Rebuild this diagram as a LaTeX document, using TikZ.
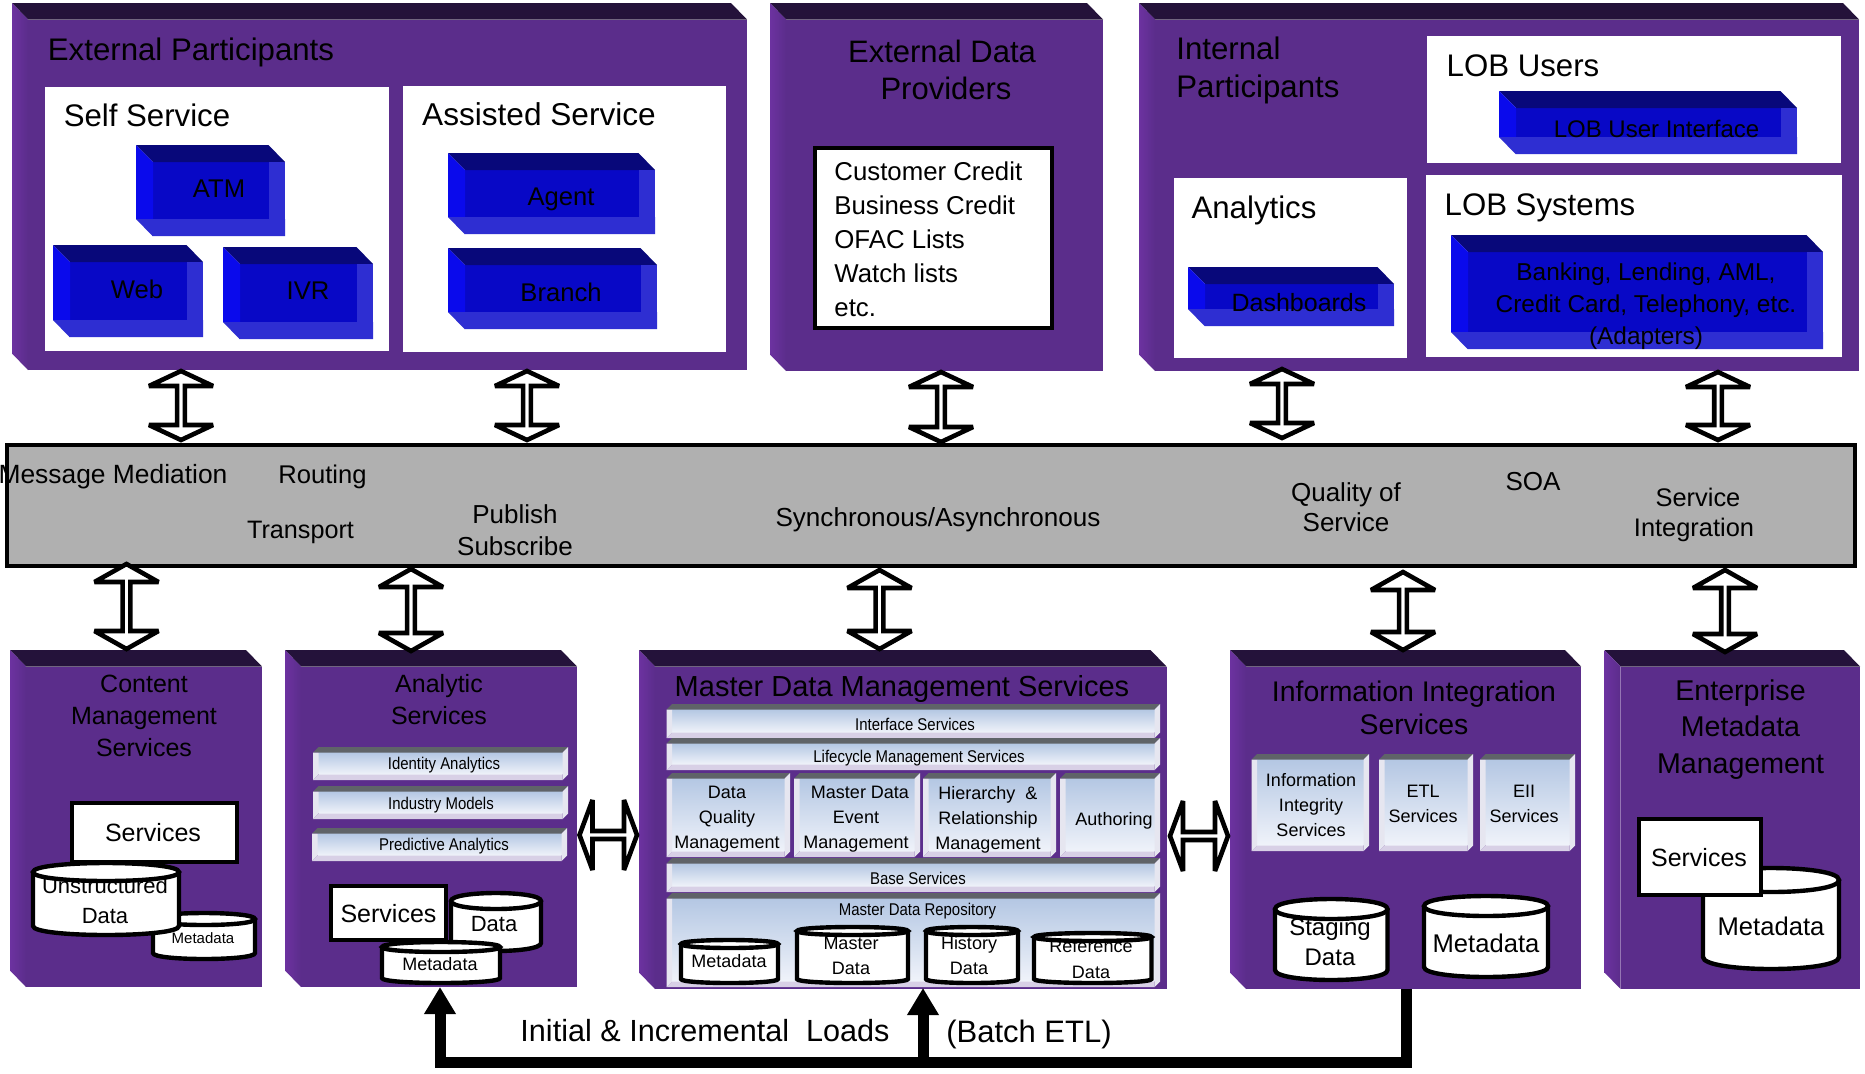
\documentclass[tikz,border=0pt]{standalone}
\usepackage{fontspec}
\setmainfont{Liberation Sans}
\newfontfamily\narrowf[FakeStretch=0.88]{Liberation Sans}
\usetikzlibrary{arrows.meta,shapes.arrows}
\definecolor{pfront}{HTML}{5B2D8B}
\definecolor{pleft}{HTML}{6C32A0}
\definecolor{ptop}{HTML}{24123A}
\definecolor{bcentre}{HTML}{0808C6}
\definecolor{btop}{HTML}{08087A}
\definecolor{bleft}{HTML}{0A0AEC}
\definecolor{bband}{HTML}{2E2ED2}
\definecolor{busgrey}{HTML}{B0B0B0}
\definecolor{ltop}{HTML}{B4C7E3}
\definecolor{lbot}{HTML}{F0F3FA}
\definecolor{lgrey}{HTML}{5F6368}
\definecolor{lband}{HTML}{D8D0E6}
\definecolor{lside}{HTML}{E6E6F0}
\tikzset{
  rectbase/.style={rectangle,anchor=north west,inner sep=0pt,outer sep=0pt},
  whitepanel/.style={rectbase,fill=white},
  thickbox/.style={rectbase,fill=white,draw=black,line width=2.4pt,line join=miter},
  busbox/.style={rectbase,fill=busgrey,draw=black,line width=2.2pt},
  frontface/.style={rectbase,fill=pfront},
  dblarrow/.style={double arrow,draw=black,fill=white,line width=2.3pt,inner sep=0pt,outer sep=0pt,
    double arrow head indent=0pt,line join=miter,miter limit=2.5},
  cylstroke/.style={draw=black,fill=white,line width=2.2pt},
  loadline/.style={draw=black,line width=5.5pt,line join=miter},
  loadtip/.style={-{Triangle[length=13.5pt,width=15pt]}},
}
\newcommand{\fs}[2]{\fontsize{#1}{#2}\selectfont}
% single line label
\newcommand{\T}[5]{\node[inner sep=0pt,font=\fs{#4}{#4}] (#1) at (#2,{#3+2.5}) {\vphantom{Ag}#5};}
% narrow label
\newcommand{\TN}[5]{\node[inner sep=0pt,font=\narrowf\fs{#4}{#4}] (#1) at (#2,{#3+1.5}) {\vphantom{Ag}#5};}
% multi line label
\newcommand{\ML}[7][]{\node[inner sep=0pt,align=center,font=\fs{#5}{#6},#1] (#2) at (#3,#4) {#7};}
% purple box: name x0 y0 x1 y1
\newcommand{\pbox}[5]{%
  \fill[ptop] (#2,#3) -- ({#4-16},#3) -- (#4,{#3+16.5}) -- ({#2+16},{#3+16.5}) -- cycle;
  \shade[left color=pleft,right color=pfront] (#2,#3) -- ({#2+16},{#3+16.5}) -- ({#2+16},#5) -- (#2,{#5-16.5}) -- cycle;
  \node[frontface,minimum width={(#4-#2-16)*0.5pt},minimum height={(#5-#3-16.5)*0.5pt}] (#1) at ({#2+16},{#3+16.5}) {};}
\newcommand{\rectn}[6]{\node[#1,minimum width={(#5-#3)*0.5pt},minimum height={(#6-#4)*0.5pt}] (#2) at (#3,#4) {};}
% blue box: x0 y0 x1 y1
\newcommand{\bluebox}[4]{%
  \fill[bcentre] ({#1+17},{#2+17}) rectangle ({#3-16.5},{#4-17});
  \fill[btop] (#1,#2) -- ({#3-16.5},#2) -- (#3,{#2+17}) -- ({#1+17},{#2+17}) -- cycle;
  \fill[bleft] (#1,#2) -- ({#1+17},{#2+17}) -- ({#1+17},{#4-17}) -- (#1,{#4-17}) -- cycle;
  \fill[bband] (#1,{#4-17}) -- (#3,{#4-17}) -- (#3,#4) -- ({#1+16.5},#4) -- cycle;
  \fill[bband] ({#3-16.5},{#2+17}) -- (#3,{#2+17}) -- (#3,#4) -- ({#3-16.5},#4) -- cycle;}
% light bevelled bar: x0 y0 x1 y1
\newcommand{\lightbar}[4]{%
  \shade[top color=ltop,bottom color=lbot] ({#1+5.5},{#2+5.5}) rectangle ({#3-5.5},{#4-5.5});
  \fill[lgrey] ({#1},{#2+5.5}) -- ({#1+5.5},#2) -- (#3,#2) -- ({#3-5.5},{#2+5.5}) -- cycle;
  \fill[lside] (#1,{#2+5.5}) -- ({#1+5.5},{#2+5.5}) -- ({#1+5.5},{#4-5.5}) -- (#1,#4) -- cycle;
  \fill[lband] (#1,#4) -- ({#1+5.5},{#4-5.5}) -- ({#3-5.5},{#4-5.5}) -- ({#3-5.5},#4) -- cycle;
  \fill[lside] ({#3-5.5},{#2+5.5}) -- (#3,#2) -- (#3,{#4-5.5}) -- ({#3-5.5},#4) -- cycle;}
% cylinder: outer x0 y0 x1 y1 ry, then code for label drawn under the lid
\newcommand{\cyl}[6]{%
  \draw[cylstroke] ({#1+2},{#2+2+#5}) -- ({#1+2},{#4-2-#5})
    .. controls ({#1+2},{#4-2+#5/3}) and ({#3-2},{#4-2+#5/3}) .. ({#3-2},{#4-2-#5})
    -- ({#3-2},{#2+2+#5});
  #6
  \draw[cylstroke] ({#1+2},{#2+2+#5})
    .. controls ({#1+2},{#2+2-#5/3}) and ({#3-2},{#2+2-#5/3}) .. ({#3-2},{#2+2+#5})
    .. controls ({#3-2},{#2+2+7*#5/3}) and ({#1+2},{#2+2+7*#5/3}) .. ({#1+2},{#2+2+#5}) -- cycle;}
% vertical double arrow: name cx ytop ybot headlen
\newcommand{\vdarrow}[5]{\node[dblarrow,rotate=90,minimum width=32pt,double arrow head extend=8.5pt,
   minimum height={(#4-#3-4)*0.5pt},double arrow tip angle={2*atan(32/#5)}] (#1) at (#2,{(#3+#4)/2}) {};}
% horizontal double arrow: name x0 x1 cy headlen
\newcommand{\hdarrow}[5]{\node[dblarrow,minimum width=35pt,double arrow head extend=9pt,
   minimum height={(#3-#2-4)*0.5pt},double arrow tip angle={2*atan(35/#5)}] (#1) at ({(#2+#3)/2},#4) {};}
\begin{document}
\begin{tikzpicture}[x=0.5pt,y=-0.5pt]
\useasboundingbox (0,0) rectangle (1865,1073);
% ---------- External participants
\pbox{extpart}{12}{3}{747}{370}
\T{extparttitle}{191}{50}{15.6}{External Participants}
\rectn{whitepanel}{selfsvc}{45}{87}{389}{351}
\rectn{whitepanel}{assist}{403}{86}{726}{352}
\T{selfsvctitle}{147}{116}{15.6}{Self Service}
\T{assisttitle}{539}{115}{15.8}{Assisted Service}
\bluebox{136}{145}{285}{236}
\T{atm}{219}{189}{12.8}{ATM}
\bluebox{53}{245}{203}{337}
\T{web}{137}{289}{12.8}{Web}
\bluebox{223}{247}{373}{339}
\T{ivr}{308}{291}{12.8}{IVR}
\bluebox{448}{153}{655}{234}
\T{agent}{561}{197}{12.8}{Agent}
\bluebox{448}{248}{657}{329}
\T{branch}{561}{292}{12.8}{Branch}
% ---------- External data providers
\pbox{extdata}{770}{3}{1103}{371}
\ML{extdatatitle}{942}{70}{15.5}{18.7}{External Data\\\hspace*{4pt}Providers}
\rectn{thickbox}{extlist}{815}{148}{1052}{328}
\ML[align=left,anchor=west]{extlisttext}{834}{239}{12.9}{17}{Customer Credit\\Business Credit\\OFAC Lists\\Watch lists\\etc.}
% ---------- Internal participants
\pbox{intpart}{1139}{3}{1859}{371}
\ML[align=left,anchor=west]{intparttitle}{1176}{70}{15.6}{19}{Internal\\Participants}
\rectn{whitepanel}{lobusers}{1427}{36}{1841}{163}
\T{lobuserstitle}{1523}{66.5}{15.6}{LOB Users}
\bluebox{1499}{91}{1797}{154}
\T{lobui}{1656.5}{129}{12}{LOB User Interface}
\rectn{whitepanel}{analytics}{1174}{178}{1407}{358}
\T{analyticstitle}{1254}{208}{15.6}{Analytics}
\bluebox{1188}{267}{1394}{326}
\T{dashboards}{1299}{303}{12.5}{Dashboards}
\rectn{whitepanel}{lobsys}{1426}{175}{1842}{357}
\T{lobsystitle}{1540}{205}{15.6}{LOB Systems}
\bluebox{1451}{235}{1823}{349}
\ML{lobsystext}{1646}{306.5}{12.2}{16}{Banking, Lending, AML,\\Credit Card, Telephony, etc.\\(Adapters)}
% ---------- Bus
\rectn{busbox}{bus}{7}{445}{1855}{566}
\T{busmm}{113}{474}{13.2}{Message Mediation}
\T{busrouting}{322.5}{474}{12.8}{Routing}
\T{bustransport}{300.5}{530}{12.6}{Transport}
\ML{buspub}{515}{530}{13}{16}{Publish\\Subscribe}
\T{bussync}{938}{517}{13.05}{Synchronous/Asynchronous}
\ML{busqos}{1346}{507}{13}{15}{Quality of\\Service}
\T{bussoa}{1533}{482}{13}{SOA}
\ML{bussi}{1694}{515}{12.7}{14.7}{\hspace*{4pt}Service\\Integration}
% ---------- Content management
\pbox{content}{10}{650}{262}{987}
\ML{contenttitle}{144}{716}{12.5}{16}{Content\\Management\\Services}
\cyl{151}{911}{257}{961}{6}{\T{contentmetatext}{203}{937.5}{7.5}{Metadata}}
\rectn{thickbox}{contentsvc}{72}{803}{237}{862}
\T{contentsvctext}{153}{833}{12.5}{Services}
\cyl{31}{861}{181}{937}{9}{\ML{unstructtext}{105}{901}{11}{15}{Unstructured\\Data}}
% ---------- Analytic services
\pbox{analytic}{285}{650}{577}{987}
\ML{analytictitle}{439}{700}{12.5}{16}{Analytic\\Services}
\lightbar{313}{747}{568}{780}
\TN{identity}{444}{764}{8.5}{Identity Analytics}
\lightbar{313}{786}{568}{819}
\TN{industry}{441}{804}{8.5}{Industry Models}
\lightbar{312}{828}{567}{861}
\TN{predictive}{444}{845}{8.5}{Predictive Analytics}
\cyl{449}{891}{543}{953}{8}{\T{anadatatext}{494}{924}{11}{Data}}
\rectn{thickbox}{anasvc}{331}{886}{446}{940}
\T{anasvctext}{388.5}{914}{12.5}{Services}
\cyl{380}{940}{502}{985}{5}{\T{anametatext}{440}{963}{9}{Metadata}}
% ---------- MDM
\pbox{mdm}{639}{650}{1166.5}{989}
\T{mdmtitle}{902}{686}{14.5}{Master Data Management Services}
\lightbar{666.5}{704}{1160}{738}
\TN{ifsvc}{915}{725}{8.5}{Interface Services}
\lightbar{666.5}{738}{1160}{770}
\TN{lifesvc}{919}{757}{8.5}{Lifecycle Management Services}
\lightbar{666.5}{773}{790}{857}
\ML{dqm}{727}{819}{9}{12.5}{Data\\Quality\\Management}
\lightbar{794}{773}{920}{857}
\ML{mdem}{856}{819.5}{9}{12.5}{\hspace*{4pt}Master Data\\Event\\Management}
\lightbar{923}{773}{1056}{857}
\ML{hrm}{988}{820}{9}{12.5}{Hierarchy\ \ \&\\Relationship\\Management}
\lightbar{1060}{773}{1160}{857}
\T{authoring}{1114}{818}{9}{Authoring}
\lightbar{666.5}{858}{1160}{892}
\TN{basesvc}{918}{879}{8.5}{Base Services}
\lightbar{666.5}{893}{1160}{987}
\TN{repo}{917.5}{910}{8.5}{Master Data Repository}
\cyl{679}{938}{780}{985}{4}{\T{repometa}{729}{960}{9}{Metadata}}
\cyl{795}{925}{910}{985}{4}{\ML{repomaster}{851}{955.5}{9}{12.5}{Master\\Data}}
\cyl{924}{925}{1020}{985}{4}{\ML{repohist}{969}{955.5}{9}{12.5}{History\\Data}}
\cyl{1032}{931}{1153.5}{985}{4}{\ML{reporef}{1091}{959}{9}{13}{Reference\\Data}}
% ---------- Information integration
\pbox{iis}{1230}{650}{1581}{989}
\ML{iistitle}{1414}{708}{14.2}{16.5}{Information Integration\\Services}
\lightbar{1251.5}{754}{1369}{851}
\ML{iiint}{1311}{805}{9}{12.5}{Information\\Integrity\\Services}
\lightbar{1379}{754}{1473}{851}
\ML{iietl}{1423}{804}{9}{12.5}{ETL\\Services}
\lightbar{1480}{754}{1575}{851}
\ML{iieii}{1524}{804}{9}{12.5}{EII\\Services}
\cyl{1273}{897}{1389.5}{982}{10}{\ML{stagingtext}{1330}{942}{12}{15}{Staging\\Data}}
\cyl{1422}{894}{1550}{979}{10}{\T{iismeta}{1486}{943}{12.8}{Metadata}}
% ---------- Enterprise metadata
\pbox{emm}{1604.5}{650}{1860}{989}
\ML{emmtitle}{1740.5}{729.5}{14.3}{18.3}{Enterprise\\Metadata\\Management}
\cyl{1701}{866}{1841}{971}{12}{\T{emmmeta}{1771}{926}{12.8}{Metadata}}
\rectn{thickbox}{emmsvc}{1639}{819}{1761}{895}
\T{emmsvctext}{1699}{858}{12.5}{Services}
% ---------- Double arrows
\vdarrow{a1}{181}{369}{442}{15}
\vdarrow{a2}{527}{369}{442}{15}
\vdarrow{a3}{941}{370}{444}{15}
\vdarrow{a4}{1282}{367}{440}{15}
\vdarrow{a5}{1718}{370}{442}{15}
\vdarrow{b1}{126.5}{562}{651}{18}
\vdarrow{b2}{411}{567}{653}{18}
\vdarrow{b3}{879.5}{568}{651}{18}
\vdarrow{b4}{1403}{570}{652}{18}
\vdarrow{b5}{1725}{568}{654}{18}
\hdarrow{h1}{577.5}{639}{835}{13}
\hdarrow{h2}{1168}{1230}{836}{13}
% ---------- Loads
\coordinate (iisout) at (1406,989);
\coordinate (iiscorner) at (1406,1062);
\coordinate (anacorner) at (440,1062);
\coordinate (anain) at (440,987);
\coordinate (mdmcorner) at (923,1062);
\coordinate (mdmin) at (923,988);
\draw[loadline,loadtip] (iisout) -- (iiscorner) -- (anacorner) -- (anain);
\draw[loadline,loadtip] (mdmcorner) -- (mdmin);
\T{loadslabel}{705}{1031.5}{15.3}{Initial \& Incremental\ \ Loads}
\T{batchlabel}{1029}{1031.5}{15.5}{(Batch ETL)}
\end{tikzpicture}
\end{document}
